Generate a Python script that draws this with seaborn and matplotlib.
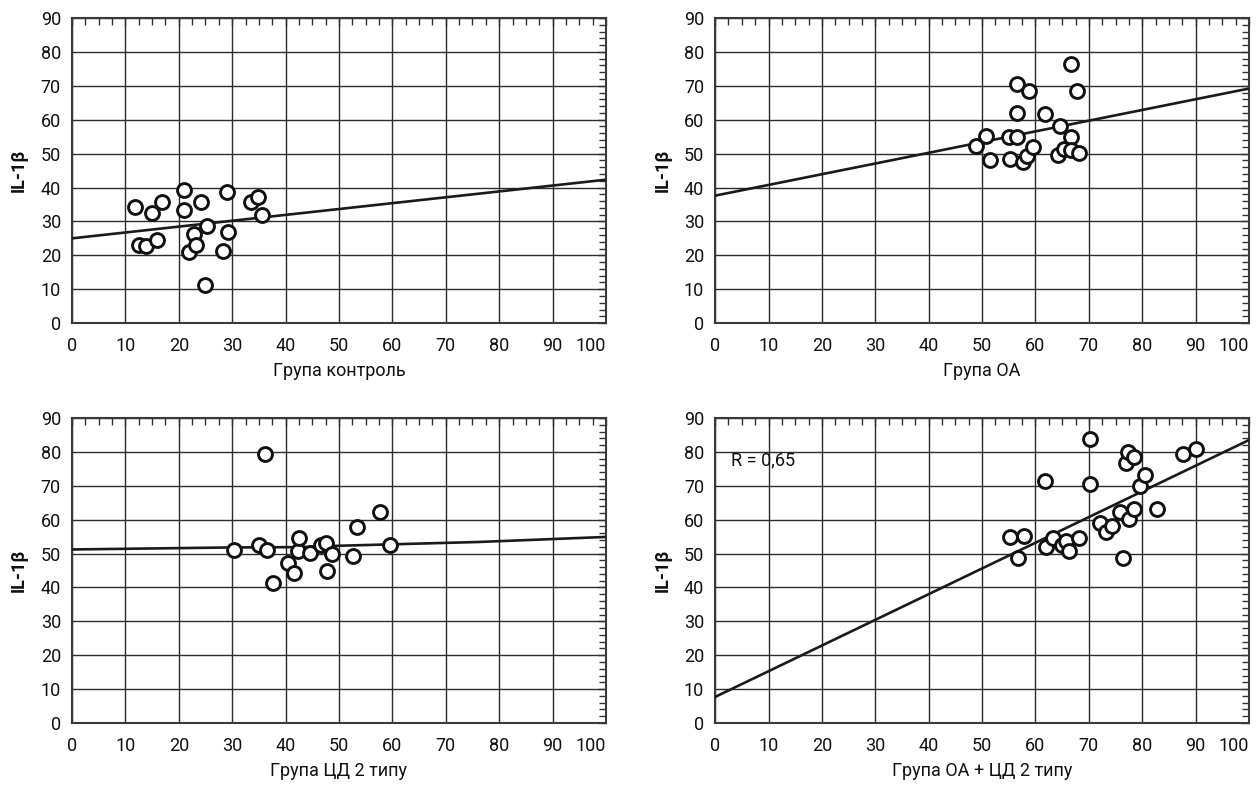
import matplotlib
matplotlib.use("Agg")
import matplotlib.pyplot as plt
import seaborn as sns
import pandas as pd
from matplotlib.ticker import MultipleLocator

# --- data ---
# Група контроль
ctrl_x = [11.8, 12.6, 13.9, 15.0, 16.0, 16.9, 21.0, 21.0, 22.0, 22.8,
          23.3, 24.1, 25.0, 25.2, 28.2, 29.1, 29.2, 33.5, 34.9, 35.6]
ctrl_y = [34.1, 23.1, 22.7, 32.6, 24.6, 35.8, 39.4, 33.3, 21.1, 26.3,
          23.1, 35.8, 11.1, 28.7, 21.3, 38.7, 26.9, 35.8, 37.2, 31.8]
ctrl_fit_x = [0, 100]
ctrl_fit_y = [25.0, 42.3]

# Група ОА
oa_x = [48.9, 50.8, 51.5, 55.1, 55.3, 56.5, 56.6, 56.6, 57.6, 58.5, 58.7,
        59.5, 61.7, 64.2, 64.6, 65.3, 66.7, 66.7, 66.7, 67.7, 68.1]
oa_y = [52.1, 55.2, 48.2, 55.0, 48.3, 70.6, 62.1, 55.0, 47.5, 49.4, 68.6,
        52.0, 61.8, 49.7, 58.2, 51.4, 76.4, 55.0, 51.0, 68.6, 50.2]
oa_fit_x = [0, 100]
oa_fit_y = [37.6, 69.2]

# Група ЦД 2 типу
dm_x = [36.2, 30.3, 35.1, 36.6, 37.6, 40.5, 41.5, 42.3, 42.5, 44.6,
        46.7, 47.6, 47.8, 48.6, 52.6, 53.3, 57.6, 59.6]
dm_y = [79.3, 51.0, 52.6, 50.9, 41.4, 47.2, 44.3, 50.7, 54.7, 50.1,
        52.4, 53.1, 44.9, 49.8, 49.4, 57.7, 62.4, 52.5]
dm_fit_x = [0, 30, 43, 50, 76, 100]
dm_fit_y = [51.2, 51.8, 51.9, 52.3, 53.4, 54.9]

# Група ОА + ЦД 2 типу
both_x = [55.3, 56.7, 57.8, 61.8, 61.9, 63.2, 64.9, 65.8, 66.3, 68.1,
          70.2, 70.2, 72.1, 73.2, 74.4, 75.8, 76.4, 77.0, 77.3, 77.5,
          78.5, 78.5, 79.5, 80.5, 82.7, 87.6, 90.0]
both_y = [54.8, 48.6, 55.2, 71.3, 51.9, 54.5, 52.5, 53.8, 50.8, 54.5,
          83.7, 70.5, 59.0, 56.5, 58.2, 62.4, 48.7, 76.6, 80.1, 60.3,
          78.6, 63.2, 69.9, 73.3, 63.2, 79.3, 80.8]
both_fit_x = [0, 100]
both_fit_y = [7.7, 83.5]

panels = [
    ("Група контроль", ctrl_x, ctrl_y, ctrl_fit_x, ctrl_fit_y, None),
    ("Група ОА", oa_x, oa_y, oa_fit_x, oa_fit_y, None),
    ("Група ЦД 2 типу", dm_x, dm_y, dm_fit_x, dm_fit_y, None),
    ("Група ОА + ЦД 2 типу", both_x, both_y, both_fit_x, both_fit_y, "R = 0,65"),
]

x_ticks = list(range(0, 101, 10))
y_ticks = list(range(0, 91, 10))

sns.set_theme(style="white")
plt.rcParams["font.family"] = ["Roboto", "DejaVu Sans"]
plt.rcParams["font.size"] = 13
plt.rcParams["text.color"] = "#111111"
plt.rcParams["axes.labelcolor"] = "#111111"
plt.rcParams["xtick.color"] = "#333333"
plt.rcParams["ytick.color"] = "#333333"
plt.rcParams["xtick.labelcolor"] = "#111111"
plt.rcParams["ytick.labelcolor"] = "#111111"

fig, axes = plt.subplots(2, 2, figsize=(12.59, 7.87), dpi=100)
fig.subplots_adjust(left=0.0572, right=0.9921, bottom=0.0813, top=0.9771,
                    wspace=0.2045, hspace=0.311)

for ax, (label, xs, ys, fx, fy, note) in zip(axes.flat, panels):
    pts = pd.DataFrame({"x": xs, "y": ys})
    fit = pd.DataFrame({"x": fx, "y": fy})
    sns.lineplot(data=fit, x="x", y="y", ax=ax, color="#1a1a1a",
                 linewidth=1.9, zorder=3)
    sns.scatterplot(data=pts, x="x", y="y", ax=ax, marker="o", s=100,
                    facecolor="white", edgecolor="#111111", linewidth=2.1,
                    zorder=4)

    ax.set_xlim(0, 100)
    ax.set_ylim(0, 90)
    ax.set_xticks(x_ticks)
    ax.set_xticklabels([str(t) for t in x_ticks])
    ax.get_xticklabels()[-1].set_horizontalalignment("right")
    ax.set_yticks(y_ticks)
    ax.xaxis.set_minor_locator(MultipleLocator(2.5))
    ax.yaxis.set_minor_locator(MultipleLocator(2))
    ax.grid(True, which="major", color="#2b2b2b", linewidth=1.0)
    ax.set_axisbelow(True)
    ax.tick_params(which="both", direction="in", top=True, right=True)
    ax.tick_params(which="major", length=6, width=1.0, labelsize=13)
    ax.tick_params(axis="x", which="major", pad=10)
    ax.tick_params(axis="y", which="major", pad=8)
    ax.tick_params(which="minor", length=5, width=1.0)
    for sp in ax.spines.values():
        sp.set_color("#3a3a3a")
        sp.set_linewidth(1.5)

    ax.set_xlabel(label, fontsize=13, labelpad=5)
    ax.set_ylabel("IL-1β", fontsize=13, fontweight="bold", labelpad=9)

    if note:
        ax.text(3, 77.5, note, fontsize=13, ha="left", va="center")

plt.savefig("out.png", dpi=100)
